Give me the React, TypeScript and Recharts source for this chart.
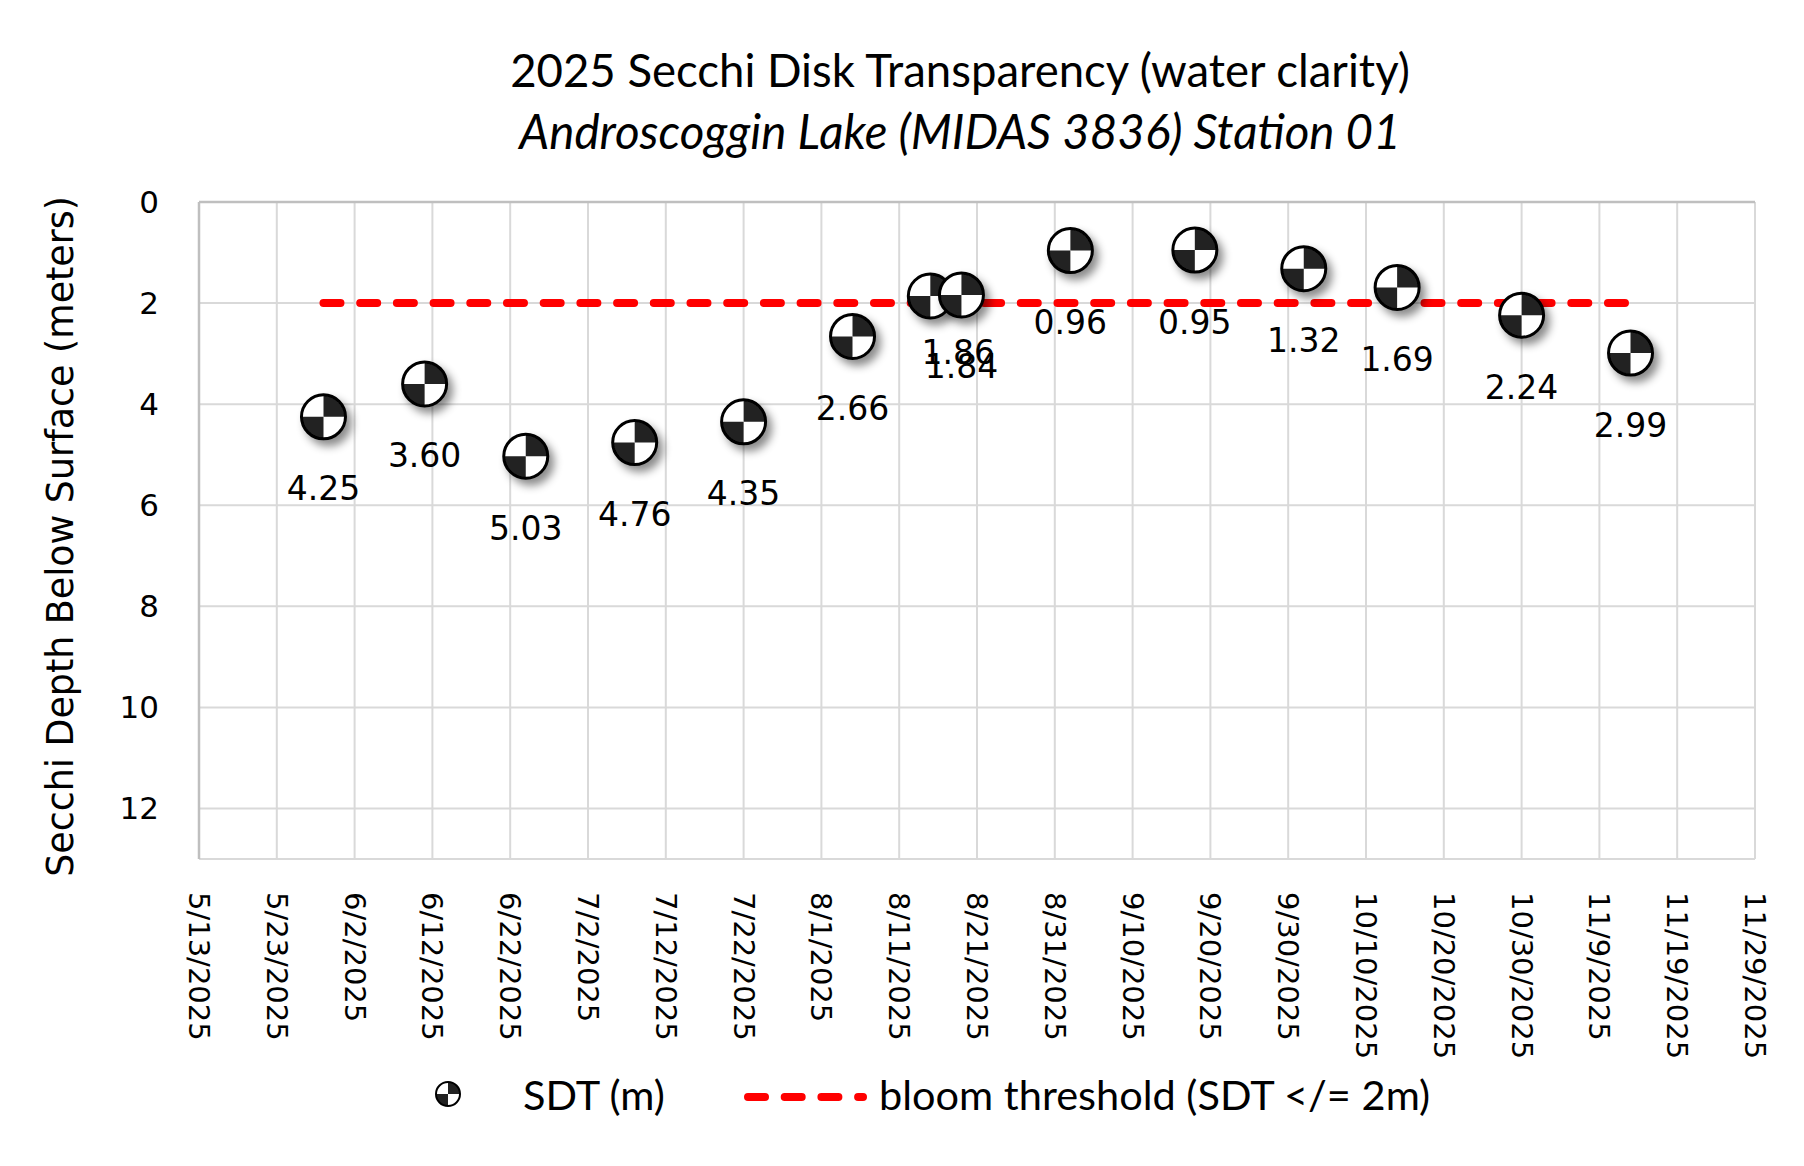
import React from "react";
import {
  ScatterChart,
  Scatter,
  XAxis,
  YAxis,
  CartesianGrid,
  ReferenceLine,
} from "recharts";

// sampling dates and Secchi depths (m)
const SDT_DATES = [
  "5/29/2025",
  "6/11/2025",
  "6/24/2025",
  "7/8/2025",
  "7/22/2025",
  "8/5/2025",
  "8/15/2025",
  "8/19/2025",
  "9/2/2025",
  "9/18/2025",
  "10/2/2025",
  "10/14/2025",
  "10/30/2025",
  "11/13/2025",
];
const SDT_VALUES = [4.25, 3.6, 5.03, 4.76, 4.35, 2.66, 1.86, 1.84, 0.96, 0.95, 1.32, 1.69, 2.24, 2.99];

const THRESHOLD_DATES = ["5/29/2025", "11/13/2025"];
const THRESHOLD_VALUES = [2, 2];

const X_TICK_LABELS = [
  "5/13/2025",
  "5/23/2025",
  "6/2/2025",
  "6/12/2025",
  "6/22/2025",
  "7/2/2025",
  "7/12/2025",
  "7/22/2025",
  "8/1/2025",
  "8/11/2025",
  "8/21/2025",
  "8/31/2025",
  "9/10/2025",
  "9/20/2025",
  "9/30/2025",
  "10/10/2025",
  "10/20/2025",
  "10/30/2025",
  "11/9/2025",
  "11/19/2025",
  "11/29/2025",
];
const Y_TICKS = [0, 2, 4, 6, 8, 10, 12];

const TITLE = "2025 Secchi Disk Transparency (water clarity)";
const SUBTITLE = "Androscoggin Lake (MIDAS 3836) Station 01";
const Y_TITLE = "Secchi Depth Below Surface (meters)";

const TITLE_FONT = "Lato, 'Open Sans', sans-serif";
const AXIS_FONT = "'DejaVu Sans', Verdana, sans-serif";

// the two mid-August labels sit on top of each other in the original,
// this one was nudged up and to the right
const LABEL_NUDGE: Record<string, { dx: number; dy: number }> = {
  "8/15/2025": { dx: 28, dy: -16 },
};

// days since the first axis date
const toDay = (s: string) => {
  const [m, d, y] = s.split("/").map(Number);
  const [m0, d0, y0] = X_TICK_LABELS[0].split("/").map(Number);
  return (Date.UTC(y, m - 1, d) - Date.UTC(y0, m0 - 1, d0)) / 86400000;
};

const xTicks = X_TICK_LABELS.map(toDay);
const sdtData = SDT_DATES.map((d, i) => ({ date: d, day: toDay(d), sdt: SDT_VALUES[i] }));
const thresholdData = THRESHOLD_DATES.map((d, i) => ({ date: d, day: toDay(d), sdt: THRESHOLD_VALUES[i] }));

const DASH = "17 19.7";

function Disk({ cx, cy, r, shadow }: { cx: number; cy: number; r: number; shadow?: boolean }) {
  return (
    <g filter={shadow ? "url(#diskShadow)" : undefined}>
      <circle cx={cx} cy={cy} r={r} fill="#fff" />
      <path d={`M${cx},${cy} L${cx},${cy - r} A${r},${r} 0 0 1 ${cx + r},${cy} Z`} fill="#222" />
      <path d={`M${cx},${cy} L${cx},${cy + r} A${r},${r} 0 0 1 ${cx - r},${cy} Z`} fill="#222" />
      <circle cx={cx} cy={cy} r={r} fill="none" stroke="#000" strokeWidth={r > 15 ? 3 : 2} />
    </g>
  );
}

const SdtShape = (props: any) => {
  const { cx, cy, payload } = props;
  const nudge = LABEL_NUDGE[payload.date] || { dx: 0, dy: 0 };
  return (
    <g>
      <Disk cx={cx} cy={cy} r={22} shadow />
      <text
        x={cx + nudge.dx}
        y={cy + 72 + nudge.dy}
        textAnchor="middle"
        dominantBaseline="central"
        fontFamily={AXIS_FONT}
        fontSize={33}
        fill="#000"
      >
        {payload.sdt.toFixed(2)}
      </text>
    </g>
  );
};

const XTick = (props: any) => {
  const { x, y, payload } = props;
  const label = X_TICK_LABELS[xTicks.indexOf(payload.value)];
  return (
    <text
      transform={`translate(${x},${y}) rotate(90)`}
      textAnchor="start"
      dominantBaseline="central"
      fontFamily={AXIS_FONT}
      fontSize={29}
      fill="#000"
    >
      {label}
    </text>
  );
};

const YTick = (props: any) => {
  const { x, y, payload } = props;
  return (
    <text x={x} y={y} textAnchor="end" dominantBaseline="central" fontFamily={AXIS_FONT} fontSize={31} fill="#000">
      {payload.value}
    </text>
  );
};

const YTitle = (props: any) => {
  const { viewBox } = props;
  const x = viewBox.x + 52;
  const y = viewBox.y + viewBox.height / 2 + 6;
  return (
    <text
      transform={`translate(${x},${y}) rotate(-90)`}
      textAnchor="middle"
      dominantBaseline="central"
      fontFamily={AXIS_FONT}
      fontSize={36.4}
      fill="#000"
    >
      {Y_TITLE}
    </text>
  );
};

export default function App() {
  const W = 1788;
  const H = 1150;
  return (
    <div style={{ position: "relative", width: W, height: H, background: "#fff" }}>
      <svg width={0} height={0} style={{ position: "absolute" }}>
        <defs>
          <filter id="diskShadow" x="-50%" y="-50%" width="200%" height="200%">
            <feDropShadow dx={5} dy={6} stdDeviation={4.5} floodColor="#000" floodOpacity={0.45} />
          </filter>
        </defs>
      </svg>

      <ScatterChart width={W} height={H} margin={{ top: 194, right: 41, bottom: 0, left: 0 }}>
        <CartesianGrid stroke="#d9d9d9" strokeWidth={2} />
        <XAxis
          type="number"
          dataKey="day"
          domain={[xTicks[0], xTicks[xTicks.length - 1]]}
          ticks={xTicks}
          interval={0}
          height={299}
          axisLine={false}
          tickLine={false}
          tickSize={0}
          tickMargin={33}
          tick={<XTick />}
        />
        <YAxis
          type="number"
          dataKey="sdt"
          domain={[0, 13]}
          ticks={Y_TICKS}
          reversed
          interval={0}
          width={191}
          axisLine={{ stroke: "#bfbfbf", strokeWidth: 2.5 }}
          tickLine={false}
          tickSize={0}
          tickMargin={40}
          tick={<YTick />}
          label={<YTitle />}
        />
        <ReferenceLine y={0} stroke="#bfbfbf" strokeWidth={2.5} />
        <Scatter
          name="bloom threshold (SDT </= 2m)"
          data={thresholdData}
          line={{ stroke: "#ff0000", strokeWidth: 8, strokeDasharray: DASH, strokeLinecap: "round" }}
          lineType="joint"
          shape={() => null}
          isAnimationActive={false}
        />
        <Scatter name="SDT (m)" data={sdtData} shape={<SdtShape />} isAnimationActive={false} />
      </ScatterChart>

      <svg width={W} height={H} style={{ position: "absolute", left: 0, top: 0, pointerEvents: "none" }}>
        <text x={952} y={79} textAnchor="middle" fontFamily={TITLE_FONT} fontSize={45.5} fill="#000">
          {TITLE}
        </text>
        <text x={952} y={141} textAnchor="middle" fontFamily={TITLE_FONT} fontStyle="italic" fontSize={47.5} fill="#000">
          {SUBTITLE}
        </text>

        {/* legend */}
        <Disk cx={440} cy={1086} r={12} />
        <text x={515} y={1102} fontFamily={TITLE_FONT} fontSize={41.5} fill="#000">
          SDT (m)
        </text>
        <line
          x1={740}
          y1={1089}
          x2={855}
          y2={1089}
          stroke="#ff0000"
          strokeWidth={8}
          strokeDasharray={DASH}
          strokeLinecap="round"
        />
        <text x={871} y={1102} fontFamily={TITLE_FONT} fontSize={41.5} fill="#000">
          bloom threshold (SDT &lt;/= 2m)
        </text>
      </svg>
    </div>
  );
}
